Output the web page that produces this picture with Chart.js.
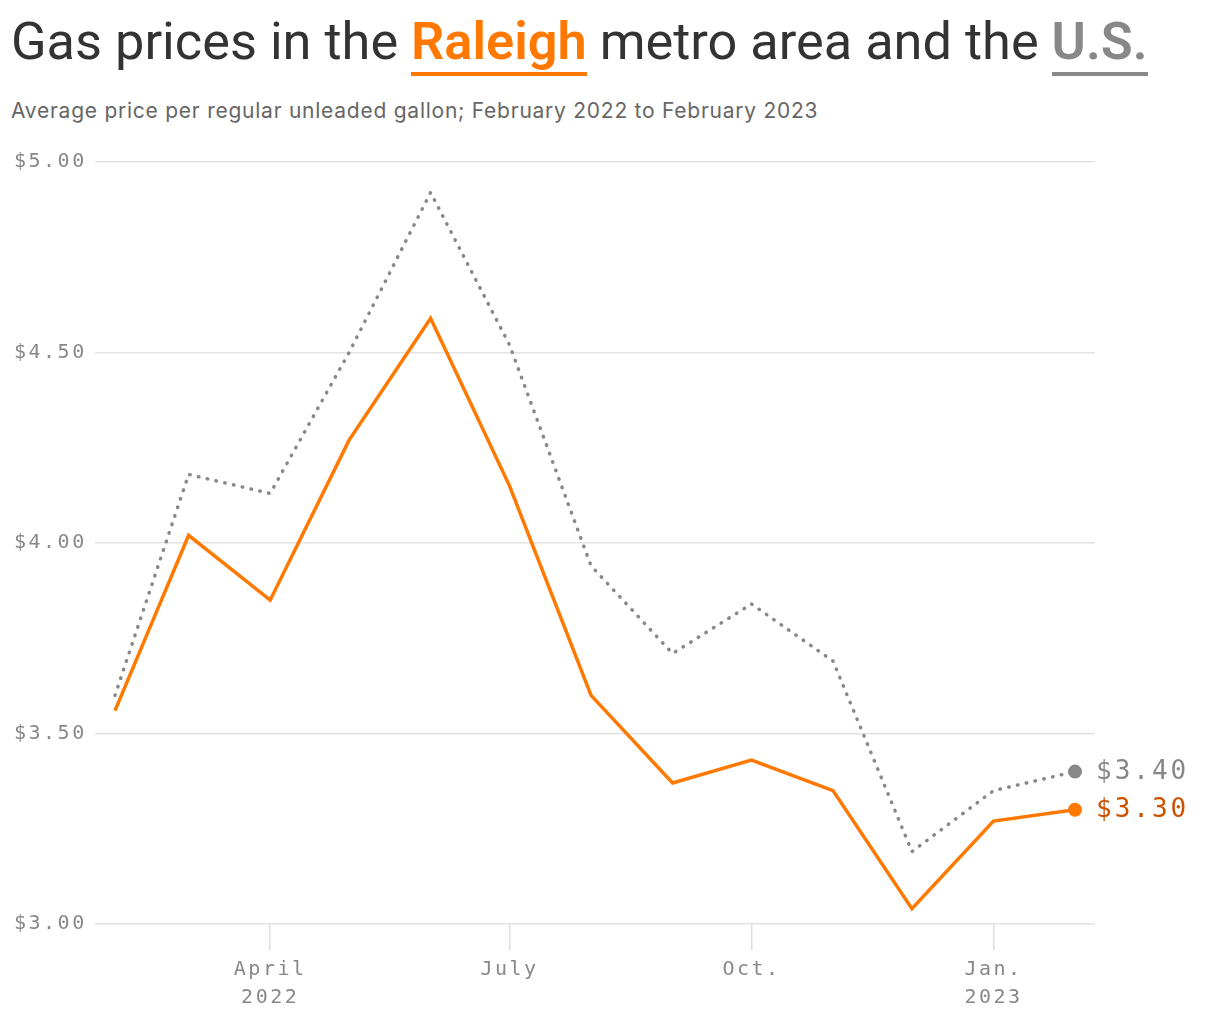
<!DOCTYPE html>
<html>
<head>
<meta charset="utf-8">
<script src="https://cdn.jsdelivr.net/npm/chart.js@4"></script>
<style>
  html, body { margin: 0; padding: 0; background: #fff; }
  body { width: 1220px; height: 1020px; position: relative; overflow: hidden; font-family: Roboto, "Noto Sans", sans-serif; }
  #title { position: absolute; left: 11px; top: 10px; margin: 0; font-size: 52.3px; font-weight: 400; color: #333; white-space: nowrap; }
  #title .ral { color: #ff7900; font-weight: 600; border-bottom: 4px solid #ff7900; }
  #title .us { color: #888; font-weight: 600; border-bottom: 4px solid #888; }
  #subtitle { position: absolute; left: 11px; top: 98px; margin: 0; font-family: Inter, Roboto, sans-serif; font-size: 21px; letter-spacing: 0.75px; color: #666; white-space: nowrap; }
  #wrap { position: absolute; left: 0; top: 140px; width: 1220px; height: 880px; }
</style>
</head>
<body>
<h1 id="title">Gas prices in the <span class="ral">Raleigh</span> metro area and the <span class="us">U.S.</span></h1>
<p id="subtitle">Average price per regular unleaded gallon; February 2022 to February 2023</p>
<div id="wrap"><canvas id="chart"></canvas></div>
<script>
const months = ["2022-02-01", "2022-03-01", "2022-04-01", "2022-05-01", "2022-06-01", "2022-07-01",
  "2022-08-01", "2022-09-01", "2022-10-01", "2022-11-01", "2022-12-01", "2023-01-01", "2023-02-01"];
const raleigh = [3.56, 4.02, 3.85, 4.27, 4.59, 4.15, 3.60, 3.37, 3.43, 3.35, 3.04, 3.27, 3.30];
const us = [3.60, 4.18, 4.13, 4.50, 4.92, 4.52, 3.94, 3.71, 3.84, 3.69, 3.19, 3.35, 3.40];
const tickDates = ["2022-04-01", "2022-07-01", "2022-10-01", "2023-01-01"];
const tickLabels = [["April", "2022"], ["July"], ["Oct."], ["Jan.", "2023"]];
const yTicks = [3, 3.5, 4, 4.5, 5];

const MONO = '"DejaVu Sans Mono", monospace';
const start = Date.parse(months[0]);
const dayOf = (d) => Math.round((Date.parse(d) - start) / 86400000);
const tickDays = tickDates.map(dayOf);

// value labels next to the last point of each line
const endLabels = {
  id: "endLabels",
  afterDatasetsDraw(chart) {
    const ctx = chart.ctx;
    ctx.save();
    ctx.letterSpacing = "3px";
    ctx.font = "26px " + MONO;
    ctx.textBaseline = "middle";
    ctx.textAlign = "left";
    chart.data.datasets.forEach((ds, i) => {
      const meta = chart.getDatasetMeta(i);
      const pt = meta.data[meta.data.length - 1];
      ctx.fillStyle = ds.labelColor;
      ctx.fillText("$" + ds.data[ds.data.length - 1].y.toFixed(2), pt.x + 21, pt.y + 1);
    });
    ctx.restore();
  },
};

const spacing = {
  id: "spacing",
  beforeDraw(chart) { chart.ctx.letterSpacing = "2.5px"; },
};

const last = months.length - 1;

new Chart(document.getElementById("chart"), {
  type: "line",
  data: {
    datasets: [
      {
        label: "U.S.",
        data: months.map((m, i) => ({ x: dayOf(m), y: us[i] })),
        borderColor: "#888",
        backgroundColor: "#888",
        borderWidth: 3.5,
        borderDash: [0.5, 8.5],
        borderCapStyle: "round",
        pointRadius: (c) => (c.dataIndex === last ? 7 : 0),
        pointBorderWidth: 0,
        labelColor: "#888",
      },
      {
        label: "Raleigh",
        data: months.map((m, i) => ({ x: dayOf(m), y: raleigh[i] })),
        borderColor: "#ff7900",
        backgroundColor: "#ff7900",
        borderWidth: 3.5,
        borderJoinStyle: "miter",
        pointRadius: (c) => (c.dataIndex === last ? 7 : 0),
        pointBorderWidth: 0,
        labelColor: "#cc5200",
      },
    ],
  },
  options: {
    responsive: true,
    maintainAspectRatio: false,
    animation: false,
    tension: 0,
    layout: { padding: { left: 14, right: 125, top: 22, bottom: 2 } },
    plugins: { legend: { display: false }, tooltip: { enabled: false } },
    scales: {
      x: {
        type: "linear",
        min: -7.6,
        max: 372.6,
        afterBuildTicks(scale) { scale.ticks = tickDays.map((v) => ({ value: v })); },
        grid: { drawOnChartArea: false, tickLength: 26, color: "#ddd", lineWidth: 1.5 },
        border: { display: false },
        ticks: {
          font: { family: MONO, size: 20, lineHeight: 1.4 },
          color: "#888",
          padding: 6,
          maxRotation: 0,
          autoSkip: false,
          callback: (v) => tickLabels[tickDays.indexOf(v)],
        },
      },
      y: {
        min: 3,
        max: 5,
        afterBuildTicks(scale) { scale.ticks = yTicks.map((v) => ({ value: v })); },
        afterFit(scale) { scale.width = 81; },
        grid: { drawTicks: false, color: "#e3e3e3", lineWidth: 1.5 },
        border: { display: false },
        ticks: {
          font: { family: MONO, size: 20 },
          color: "#888",
          crossAlign: "far",
          callback: (v) => "$" + v.toFixed(2),
        },
      },
    },
  },
  plugins: [spacing, endLabels],
});
</script>
</body>
</html>
